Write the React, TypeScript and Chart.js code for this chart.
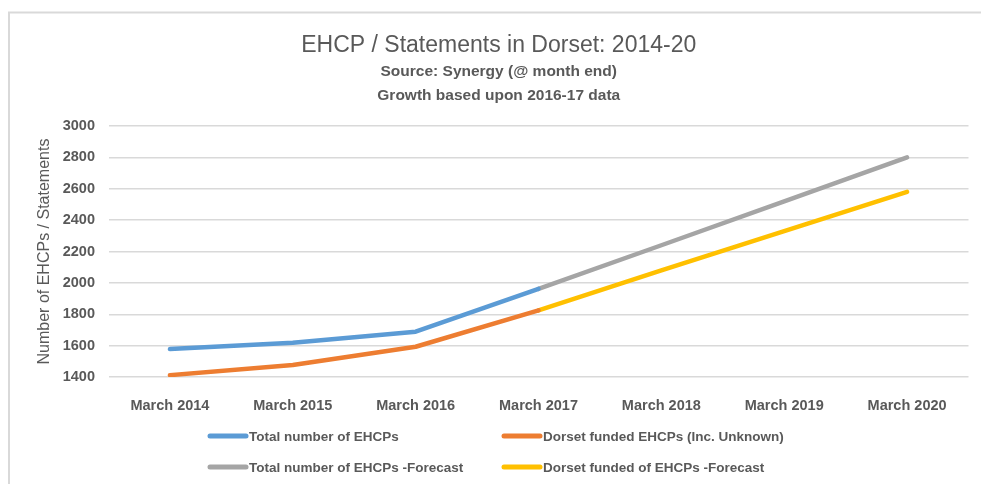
import React, { useEffect, useRef } from "react";
import { Chart, registerables } from "chart.js";

Chart.register(...registerables);

const categories = ["March 2014", "March 2015", "March 2016", "March 2017", "March 2018", "March 2019", "March 2020"];
const totalEhcps = [1578, 1619, 1689, 1962, null, null, null];
const dorsetFunded = [1412, 1476, 1593, 1825, null, null, null];
const totalForecast = [null, null, null, 1962, 2240, 2520, 2800];
const dorsetForecast = [null, null, null, 1825, 2080, 2330, 2580];

const seriesLabels = [
  "Total number of EHCPs",
  "Dorset funded EHCPs (Inc. Unknown)",
  "Total number of EHCPs -Forecast",
  "Dorset funded of EHCPs -Forecast",
];
const seriesColors = ["#5B9BD5", "#ED7D31", "#A5A5A5", "#FFC000"];

const titleText = "EHCP / Statements in Dorset: 2014-20";
const subtitleLines = ["Source: Synergy (@ month end)", "Growth based upon 2016-17 data"];
const yAxisTitle = "Number of EHCPs / Statements";

const SANS = '"Liberation Sans", Arial, sans-serif';
const TEXT = "#595959";

const framePlugin = {
  id: "frame",
  beforeDraw(chart: any) {
    const { ctx, width, height } = chart;
    ctx.save();
    ctx.fillStyle = "#ffffff";
    ctx.fillRect(0, 0, width, height);
    ctx.strokeStyle = "#d9d9d9";
    ctx.lineWidth = 2;
    ctx.beginPath();
    ctx.moveTo(9, height);
    ctx.lineTo(9, 12.5);
    ctx.lineTo(width, 12.5);
    ctx.stroke();
    ctx.restore();
  },
};

const legendPlugin = {
  id: "customLegend",
  afterDraw(chart: any) {
    const { ctx } = chart;
    const cols = [208, 502];
    const rows = [436, 467];
    ctx.save();
    ctx.font = "bold 13.5px " + SANS;
    ctx.textBaseline = "middle";
    ctx.textAlign = "left";
    chart.data.datasets.forEach((ds: any, i: number) => {
      const x = cols[i % 2];
      const y = rows[Math.floor(i / 2)];
      ctx.strokeStyle = ds.borderColor;
      ctx.lineWidth = 5;
      ctx.lineCap = "round";
      ctx.beginPath();
      ctx.moveTo(x + 2, y);
      ctx.lineTo(x + 38, y);
      ctx.stroke();
      ctx.fillStyle = TEXT;
      ctx.fillText(ds.label, x + 41, y + 1);
    });
    ctx.restore();
  },
};

export default function App() {
  const ref = useRef<HTMLCanvasElement>(null);
  useEffect(() => {
    document.body.style.margin = "0";
    const data = [totalEhcps, dorsetFunded, totalForecast, dorsetForecast];
    const chart = new Chart(ref.current!, {
      type: "line",
      data: {
        labels: categories,
        datasets: data.map((d, i) => ({
          label: seriesLabels[i],
          data: d,
          borderColor: seriesColors[i],
          backgroundColor: seriesColors[i],
          borderWidth: 4.5,
          pointRadius: 0,
          pointHoverRadius: 0,
          tension: 0,
          spanGaps: false,
          borderCapStyle: "round",
          borderJoinStyle: "round",
        })),
      },
      options: {
        animation: false,
        responsive: false,
        devicePixelRatio: 1,
        layout: { padding: { top: 13, right: 12.5, bottom: 0, left: 29 } },
        plugins: {
          legend: { display: false },
          tooltip: { enabled: false },
          title: {
            display: true,
            text: titleText,
            color: TEXT,
            font: { family: SANS, size: 23, weight: "normal", lineHeight: 1.2 },
            padding: { top: 18.7, bottom: 0.2 },
          },
          subtitle: {
            display: true,
            text: subtitleLines,
            color: TEXT,
            font: { family: SANS, size: 15.5, weight: "bold", lineHeight: 1.55 },
            padding: { top: 0, bottom: 18.5 },
          },
        },
        scales: {
          x: {
            type: "category",
            offset: true,
            grid: { display: false },
            border: { display: false },
            ticks: {
              color: TEXT,
              padding: 12,
              maxRotation: 0,
              autoSkip: false,
              font: { family: SANS, size: 14.5, weight: "bold" },
            },
            afterFit: (scale: any) => {
              scale.height = 107;
            },
          },
          y: {
            min: 1400,
            max: 3000,
            ticks: {
              stepSize: 200,
              color: TEXT,
              padding: 13.5,
              font: { family: SANS, size: 14.5, weight: "bold" },
              callback: (v: any) => String(v),
            },
            grid: { color: "#d9d9d9", lineWidth: 1.5, drawTicks: false },
            border: { display: false },
            title: {
              display: true,
              text: yAxisTitle,
              color: TEXT,
              font: { family: SANS, size: 16, weight: "normal", lineHeight: 1.2 },
              padding: { top: 6.4, bottom: 0 },
            },
            afterFit: (scale: any) => {
              scale.width = 79.5;
            },
          },
        },
      },
      plugins: [framePlugin, legendPlugin],
    });
    return () => chart.destroy();
  }, []);
  return (
    <div style={{ position: "absolute", left: 0, top: 0, width: 981, height: 484 }}>
      <canvas ref={ref} width={981} height={484} />
    </div>
  );
}
